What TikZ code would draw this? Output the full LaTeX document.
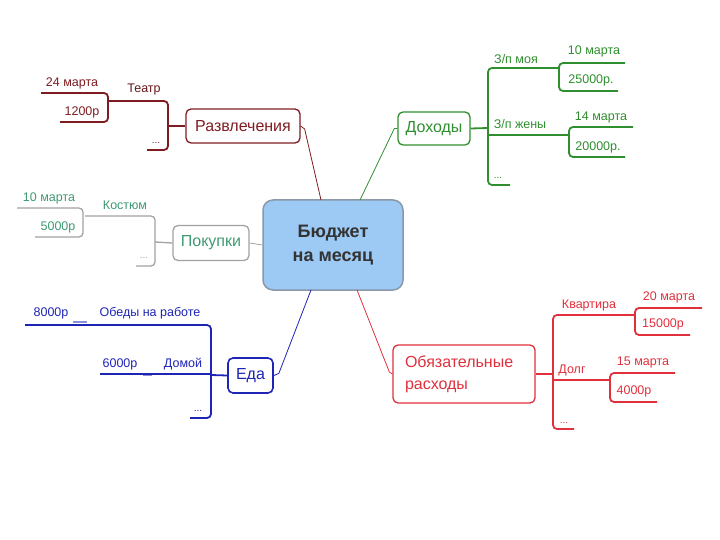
\documentclass[tikz,border=0pt]{standalone}
\usepackage{fontspec}
\setmainfont{Liberation Sans}
\definecolor{cMar}{HTML}{7E1C22}
\definecolor{cGreen}{HTML}{2F8F2F}
\definecolor{cTeal}{HTML}{3F9A72}
\definecolor{cGray}{HTML}{A2A2A2}
\definecolor{cBlue}{HTML}{1E24B4}
\definecolor{cLBlue}{HTML}{8C90DC}
\definecolor{cRed}{HTML}{E0303C}
\definecolor{cFill}{HTML}{9DC9F5}
\definecolor{cBorder}{HTML}{8A98A8}
\begin{document}
\begin{tikzpicture}[x=1pt,y=-1pt,
  branchbox/.style={draw, rounded corners=5pt, line width=1.3pt, inner sep=0pt, font=\fontsize{16}{18}\selectfont},
  lbl/.style={inner sep=0pt, font=\fontsize{12.5}{14}\selectfont},
  dots/.style={inner sep=0pt, font=\fontsize{10}{12}\selectfont},
  brk/.style={line width=1.8pt, rounded corners=4pt},
  conn/.style={line width=0.8pt}]
\useasboundingbox (0,0) rectangle (720,540);

% central
\node[draw=cBorder, fill=cFill, rounded corners=10pt, line width=1.5pt,
      minimum width=140pt, minimum height=90pt, align=center,
      font=\fontsize{18}{24}\selectfont\bfseries, text=black!80] (c) at (333,245) {Бюджет\\на месяц};

% ---------- Развлечения ----------
\node[branchbox, draw=cMar, text=cMar, minimum width=114pt, minimum height=34pt] (r) at (243,126) {Развлечения};
\coordinate (rC) at (321,200);
\draw[conn, cMar] (r.east) -- ++(4,3) -- (rC);
\coordinate (rb1) at (168,101); \coordinate (rb2) at (168,150);
\draw[brk, cMar] (109,101) -- (rb1) -- (rb2) -- (147,150);
\draw[brk, cMar] (168,126) -- (r.west);
\draw[brk, cMar] (41,93) -- (108,93) -- (108,122) -- (60,122);
\node[lbl, text=cMar!80!black] (teatr) at (144,89) {Театр};
\node[lbl, text=cMar] (r24) at (72,83) {24 марта};
\node[lbl, text=cMar] (r1200) at (82,112) {1200р};
\node[dots, text=cMar] (rdots) at (156,143) {...};

% ---------- Покупки ----------
\node[branchbox, draw=cGray, text=cTeal, minimum width=76pt, minimum height=35pt] (p) at (211,243) {Покупки};
\draw[conn, cGray] (p.east) -- (c.west);
\draw[brk, cGray, line width=1.3pt] (85,216) -- (155,216) -- (155,266) -- (136,266);
\draw[brk, cGray, line width=1.3pt] (155,242) -- (p.west);
\draw[brk, cGray, line width=1.3pt] (17,208) -- (83,208) -- (83,237) -- (35,237);
\node[lbl, text=cTeal] (kost) at (125,205) {Костюм};
\node[lbl, text=cTeal] (p10) at (49,198) {10 марта};
\node[lbl, text=cTeal] (p5000) at (58,227) {5000р};
\node[dots, text=cGray] (pdots) at (144,258) {...};

% ---------- Еда ----------
\node[branchbox, draw=cBlue, text=cBlue, line width=1.6pt, minimum width=45pt, minimum height=35pt] (e) at (250.5,375.5) {Еда};
\coordinate (eC) at (311,290);
\draw[conn, cBlue] (e.east) -- ++(5,-2) -- (eC);
\draw[brk, cBlue] (25,325) -- (211,325) -- (211,418) -- (190,418);
\draw[brk, cBlue, line width=1.4pt] (100,374) -- (211,374);
\draw[brk, cBlue] (211,375) -- (e.west);
\draw[cLBlue, line width=1.2pt] (73,322) -- (87,322);
\draw[cLBlue, line width=1.2pt] (143,375.5) -- (152,375.5);
\node[lbl, text=cBlue] (e8000) at (51,313) {8000р};
\node[lbl, text=cBlue] (obedy) at (150,313) {Обеды на работе};
\node[lbl, text=cBlue] (e6000) at (120,364) {6000р};
\node[lbl, text=cBlue] (domoy) at (183,364) {Домой};
\node[dots, text=cBlue] (edots) at (198,411) {...};

% ---------- Доходы ----------
\node[branchbox, draw=cGreen, text=cGreen, minimum width=72pt, minimum height=33pt] (d) at (434,128.5) {Доходы};
\coordinate (dC) at (360,200);
\draw[conn, cGreen] (d.west) -- ++(-3,0) -- (dC);
\draw[brk, cGreen] (510,185) -- (488,185) -- (488,68) -- (559,68);
\draw[brk, cGreen] (d.east) -- (488,128);
\draw[brk, cGreen] (488,135) -- (569,135);
\draw[brk, cGreen] (625,63) -- (559,63) -- (559,91) -- (618,91);
\draw[brk, cGreen] (633,127) -- (569,127) -- (569,157) -- (625,157);
\node[lbl, text=cGreen] (zpm) at (516,59) {З/п моя};
\node[lbl, text=cGreen] (d10) at (594,51) {10 марта};
\node[lbl, text=cGreen] (d25) at (591,80) {25000р.};
\node[lbl, text=cGreen] (zpz) at (520,124) {З/п жены};
\node[lbl, text=cGreen] (d14) at (601,117) {14 марта};
\node[lbl, text=cGreen] (d20) at (598,147) {20000р.};
\node[dots, text=cGreen] (ddots) at (498,178) {...};

% ---------- Обязательные расходы ----------
\node[branchbox, draw=cRed, text=cRed, minimum width=142pt, minimum height=58pt, align=left, text width=118pt,
      font=\fontsize{16}{22}\selectfont] (o) at (464,374) {Обязательные\\расходы};
\coordinate (oC) at (357,290);
\draw[conn, cRed] (o.west) -- ++(-3,-2) -- (oC);
\draw[brk, cRed] (574,429) -- (553,429) -- (553,315) -- (635,315);
\draw[brk, cRed] (o.east) -- (553,374);
\draw[brk, cRed] (553,380) -- (610,380);
\draw[brk, cRed] (702,308) -- (635,308) -- (635,335) -- (690,335);
\draw[brk, cRed] (675,373) -- (610,373) -- (610,402) -- (657,402);
\node[lbl, text=cRed] (kv) at (589,305) {Квартира};
\node[lbl, text=cRed] (o20) at (669,297) {20 марта};
\node[lbl, text=cRed] (o15000) at (663,324) {15000р};
\node[lbl, text=cRed] (dolg) at (572,370) {Долг};
\node[lbl, text=cRed] (o15) at (643,362) {15 марта};
\node[lbl, text=cRed] (o4000) at (634,391) {4000р};
\node[dots, text=cRed] (odots) at (564,423) {...};
\end{tikzpicture}
\end{document}
